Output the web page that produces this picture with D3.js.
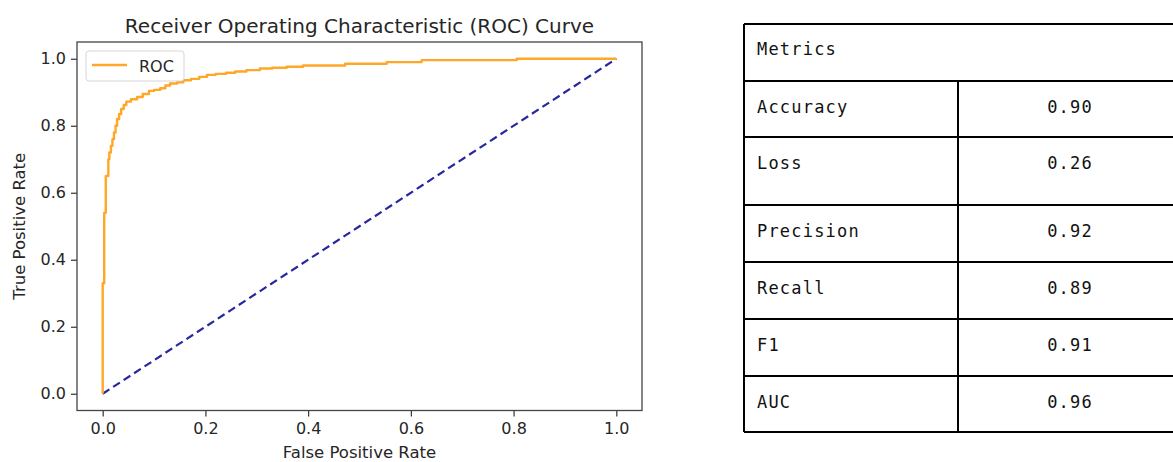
<!DOCTYPE html>
<html lang="en">
<head>
<meta charset="UTF-8">
<title>ROC Curve and Metrics</title>
<script src="https://d3js.org/d3.v7.min.js"></script>
<style>
    body { margin: 0; background: #fff; }
    .tick text { font-family: "DejaVu Sans", sans-serif; font-size: 16px; fill: #262626; }
    .tick line { stroke: #333; stroke-width: 1.2; }
    .cell-text { font-family: "DejaVu Sans Mono", monospace; font-size: 17px; letter-spacing: 1.2px; fill: #111; }
</style>
</head>
<body>
<svg class="chart"></svg>
<script>
    // ROC curve points (false positive rate, true positive rate), drawn as steps
    const fpr = [0, 0, 0.003, 0.006, 0.011, 0.013, 0.016, 0.019, 0.022, 0.025, 0.028, 0.032, 0.036, 0.041,
        0.046, 0.055, 0.067, 0.078, 0.09, 0.1, 0.112, 0.122, 0.131, 0.145, 0.157, 0.172, 0.188, 0.203, 0.22,
        0.24, 0.258, 0.28, 0.306, 0.33, 0.358, 0.39, 0.472, 0.553, 0.621, 0.806, 1.0];
    const tpr = [0, 0.33, 0.54, 0.65, 0.70, 0.72, 0.74, 0.76, 0.78, 0.80, 0.82, 0.835, 0.85, 0.862,
        0.872, 0.879, 0.886, 0.895, 0.904, 0.907, 0.912, 0.92, 0.926, 0.93, 0.936, 0.94, 0.946, 0.952, 0.955,
        0.958, 0.962, 0.966, 0.971, 0.973, 0.976, 0.98, 0.985, 0.99, 0.996, 1.0, 1.0];
    const diagonal = [0, 1];
    const ticks = [0, 0.2, 0.4, 0.6, 0.8, 1.0];

    // Metrics table
    const metricNames = ["Accuracy", "Loss", "Precision", "Recall", "F1", "AUC"];
    const metricValues = ["0.90", "0.26", "0.92", "0.89", "0.91", "0.96"];

    const W = 1173, H = 462;
    const plot = { left: 77, right: 642, top: 42, bottom: 410.5 };

    const svg = d3.select(".chart").attr("width", W).attr("height", H);

    const x = d3.scaleLinear().domain([-0.05, 1.05]).range([plot.left, plot.right]);
    const y = d3.scaleLinear().domain([-0.05, 1.05]).range([plot.bottom, plot.top]);

    // Axes
    svg.append("g")
        .attr("transform", `translate(0,${plot.bottom})`)
        .call(d3.axisBottom(x).tickValues(ticks).tickFormat(d3.format(".1f")).tickSize(6).tickPadding(6.5))
        .call(g => g.select(".domain").remove());

    svg.append("g")
        .attr("transform", `translate(${plot.left},0)`)
        .call(d3.axisLeft(y).tickValues(ticks).tickFormat(d3.format(".1f")).tickSize(6).tickPadding(5))
        .call(g => g.select(".domain").remove());

    // Diagonal reference
    const line = d3.line().x(d => x(d[0])).y(d => y(d[1]));
    svg.append("path")
        .datum(diagonal.map(d => [d, d]))
        .attr("d", line)
        .attr("fill", "none")
        .attr("stroke", "#2727a0")
        .attr("stroke-width", 2.2)
        .attr("stroke-dasharray", "8,4.5");

    // ROC curve
    const stepLine = d3.line().x(d => x(d[0])).y(d => y(d[1])).curve(d3.curveStepAfter);
    svg.append("path")
        .datum(fpr.map((d, i) => [d, tpr[i]]))
        .attr("d", stepLine)
        .attr("fill", "none")
        .attr("stroke", "#ffa726")
        .attr("stroke-width", 2.4)
        .attr("stroke-linejoin", "round");

    // Frame
    svg.append("rect")
        .attr("x", plot.left).attr("y", plot.top)
        .attr("width", plot.right - plot.left).attr("height", plot.bottom - plot.top)
        .attr("fill", "none").attr("stroke", "#444").attr("stroke-width", 1.3);

    // Legend
    const lg = svg.append("g");
    lg.append("rect")
        .attr("x", 86).attr("y", 51).attr("width", 98).attr("height", 30).attr("rx", 3)
        .attr("fill", "#fff").attr("fill-opacity", 0.8).attr("stroke", "#d6d6d6");
    lg.append("line")
        .attr("x1", 92).attr("x2", 127).attr("y1", 65).attr("y2", 65)
        .attr("stroke", "#ffa726").attr("stroke-width", 2.4);
    lg.append("text")
        .attr("x", 139).attr("y", 71.5)
        .attr("font-family", "DejaVu Sans").attr("font-size", "16px").attr("fill", "#262626")
        .text("ROC");

    // Titles
    svg.append("text")
        .attr("x", (plot.left + plot.right) / 2).attr("y", 33)
        .attr("text-anchor", "middle")
        .attr("font-family", "DejaVu Sans").attr("font-size", "20px").attr("fill", "#262626")
        .text("Receiver Operating Characteristic (ROC) Curve");

    svg.append("text")
        .attr("x", (plot.left + plot.right) / 2).attr("y", 458)
        .attr("text-anchor", "middle")
        .attr("font-family", "DejaVu Sans").attr("font-size", "16.5px").attr("fill", "#262626")
        .text("False Positive Rate");

    const yMid = (plot.top + plot.bottom) / 2;
    svg.append("text")
        .attr("transform", `translate(25,${yMid}) rotate(-90)`)
        .attr("text-anchor", "middle")
        .attr("font-family", "DejaVu Sans").attr("font-size", "16.5px").attr("fill", "#262626")
        .text("True Positive Rate");

    // Table
    const tbl = { left: 744, mid: 958, right: 1182, top: 24 };
    const rowH = [57, 56, 68, 57, 57, 57, 56];
    const rowTop = [tbl.top];
    rowH.forEach((h, i) => rowTop.push(rowTop[i] + h));

    const tg = svg.append("g");
    tg.selectAll(".hline")
        .data(rowTop)
        .join("line")
        .attr("x1", tbl.left).attr("x2", tbl.right)
        .attr("y1", d => d).attr("y2", d => d)
        .attr("stroke", "#000").attr("stroke-width", 2);
    tg.append("line")
        .attr("x1", tbl.left).attr("x2", tbl.left)
        .attr("y1", rowTop[0]).attr("y2", rowTop[rowTop.length - 1])
        .attr("stroke", "#000").attr("stroke-width", 2);
    tg.append("line")
        .attr("x1", tbl.mid).attr("x2", tbl.mid)
        .attr("y1", rowTop[1]).attr("y2", rowTop[rowTop.length - 1])
        .attr("stroke", "#000").attr("stroke-width", 2);

    tg.append("text")
        .attr("class", "cell-text")
        .attr("x", 757).attr("y", rowTop[0] + 31)
        .text("Metrics");

    tg.selectAll(".name")
        .data(metricNames)
        .join("text")
        .attr("class", "cell-text")
        .attr("x", 757)
        .attr("y", (d, i) => rowTop[i + 1] + 32)
        .text(d => d);

    tg.selectAll(".val")
        .data(metricValues)
        .join("text")
        .attr("class", "cell-text")
        .attr("x", 1070)
        .attr("y", (d, i) => rowTop[i + 1] + 32)
        .attr("text-anchor", "middle")
        .text(d => d);
</script>
</body>
</html>
